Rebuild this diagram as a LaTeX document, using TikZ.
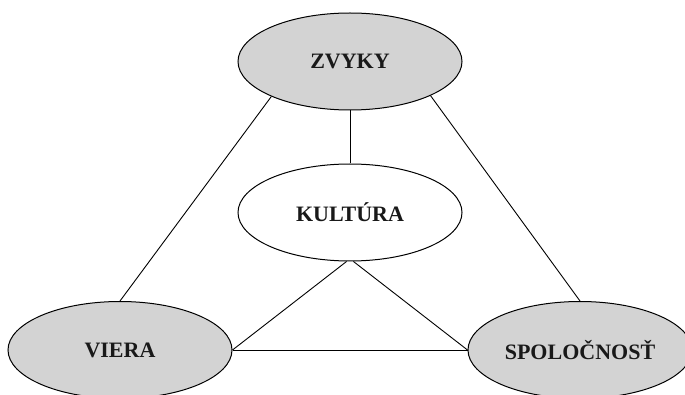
\documentclass[tikz,border=0pt]{standalone}
\usepackage{fontspec}
\setmainfont{Liberation Serif}
\usetikzlibrary{shapes.geometric}
\definecolor{ellgray}{RGB}{211,211,211}
\tikzset{
  oval/.style={ellipse, draw=black, line width=1pt, minimum width=224pt, minimum height=97pt, inner sep=0pt,
    font=\fontsize{22}{24}\selectfont\bfseries, text=black!90},
  grayoval/.style={oval, fill=ellgray},
  whiteoval/.style={oval, fill=white},
  conn/.style={draw=black, line width=0.9pt}
}
\begin{document}
\begin{tikzpicture}[x=1pt,y=1pt]
\useasboundingbox (0,0) rectangle (685,-395);
\node[grayoval] (z) at (350,-61.5) {ZVYKY};
\node[whiteoval] (k) at (350,-212.5) {KULTÚRA};
\node[grayoval] (v) at (120,-350) {VIERA};
\node[grayoval] (s) at (580,-350) {SPOLOČNOSŤ};
\draw[conn] (z.204) -- (v.north);
\draw[conn] (z.337) -- (s.north);
\draw[conn] (z.south) -- (k.north);
\draw[conn] (k.266) -- (v.east);
\draw[conn] (k.274) -- (s.west);
\draw[conn] (v.east) -- (s.west);
\end{tikzpicture}
\end{document}
